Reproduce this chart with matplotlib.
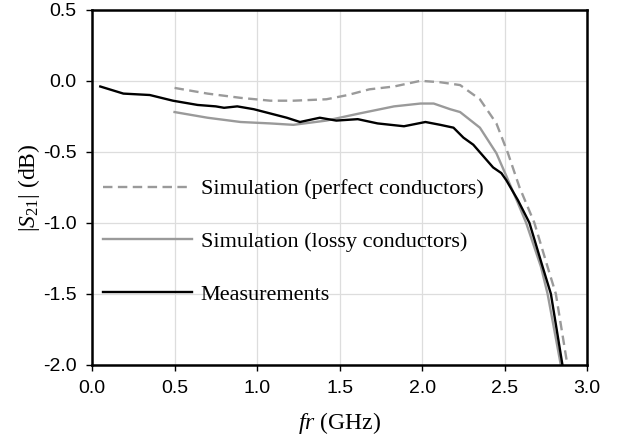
import matplotlib
matplotlib.use("Agg")
import matplotlib.pyplot as plt

plt.rcParams['mathtext.fontset'] = 'custom'
plt.rcParams['mathtext.rm'] = 'Liberation Serif'
plt.rcParams['mathtext.it'] = 'Liberation Serif:italic'

# olcum
f_meas = [0.05, 0.19, 0.35, 0.49, 0.64, 0.75, 0.80, 0.88, 0.98, 1.08, 1.18, 1.26, 1.38, 1.48,
          1.61, 1.73, 1.89, 2.02, 2.11, 2.19, 2.25, 2.31, 2.37, 2.43, 2.48, 2.51, 2.58, 2.65,
          2.73, 2.78, 2.85]
s_meas = [-0.04, -0.09, -0.10, -0.14, -0.17, -0.18, -0.19, -0.18, -0.20, -0.23, -0.26, -0.29, -0.26, -0.28,
          -0.27, -0.30, -0.32, -0.29, -0.31, -0.33, -0.40, -0.45, -0.53, -0.61, -0.65, -0.70, -0.84, -1.00,
          -1.31, -1.50, -2.00]

# simulasyon - ideal iletken
f_perf = [0.50, 0.70, 0.90, 1.08, 1.22, 1.42, 1.55, 1.68, 1.83, 1.99, 2.11, 2.23, 2.35, 2.45,
          2.52, 2.59, 2.68, 2.76, 2.81, 2.88]
s_perf = [-0.05, -0.09, -0.12, -0.14, -0.14, -0.13, -0.10, -0.06, -0.04, 0.00, -0.01, -0.03, -0.13, -0.30,
          -0.51, -0.75, -1.00, -1.31, -1.50, -2.00]

# simulasyon - kayipli iletken
f_loss = [0.50, 0.70, 0.90, 1.08, 1.22, 1.42, 1.62, 1.83, 1.99, 2.07, 2.17, 2.23, 2.35, 2.45,
          2.51, 2.58, 2.63, 2.72, 2.76, 2.84]
s_loss = [-0.22, -0.26, -0.29, -0.30, -0.31, -0.28, -0.23, -0.18, -0.16, -0.16, -0.20, -0.22, -0.33, -0.51,
          -0.67, -0.86, -1.00, -1.31, -1.50, -2.00]

fig = plt.figure(figsize=(6.26, 4.46), dpi=100)
ax = fig.add_axes([0.147, 0.182, 0.791, 0.796])

ax.plot(f_perf, s_perf, color='#9a9a9a', lw=1.7, ls=(0, (4, 2.3)), label='Simulation (perfect conductors)')
ax.plot(f_loss, s_loss, color='#9a9a9a', lw=1.7, label='Simulation (lossy conductors)')
ax.plot(f_meas, s_meas, color='black', lw=1.7, label='Measurements')

ax.set_xlim(0, 3.0)
ax.set_ylim(-2.0, 0.5)
ax.set_xticks([0, 0.5, 1.0, 1.5, 2.0, 2.5, 3.0])
ax.set_yticks([-2.0, -1.5, -1.0, -0.5, 0.0, 0.5])
ax.set_xticklabels(['0.0', '0.5', '1.0', '1.5', '2.0', '2.5', '3.0'])
ax.set_yticklabels(['-2.0', '-1.5', '-1.0', '-0.5', '0.0', '0.5'])
ax.grid(True, color='#dddddd', lw=0.9)
ax.set_axisbelow(True)
for sp in ax.spines.values():
    sp.set_linewidth(1.8)
ax.tick_params(labelsize=14, length=4, width=1.0, pad=7)
for lab in ax.get_xticklabels() + ax.get_yticklabels():
    lab.set_family('Liberation Sans')

ax.set_xlabel(r'$fr$ (GHz)', family='Liberation Serif', fontsize=17, labelpad=9)
ax.set_ylabel(r'$|S_{21}|$ (dB)', family='Liberation Serif', fontsize=17, labelpad=1)

leg = ax.legend(loc='center left', bbox_to_anchor=(0.022, 0.346), frameon=False,
                prop={'family': 'Liberation Serif', 'size': 16}, handlelength=4.0,
                labelspacing=1.45, handletextpad=0.4, borderpad=0, borderaxespad=0)

fig.savefig('out.png', dpi=100)
